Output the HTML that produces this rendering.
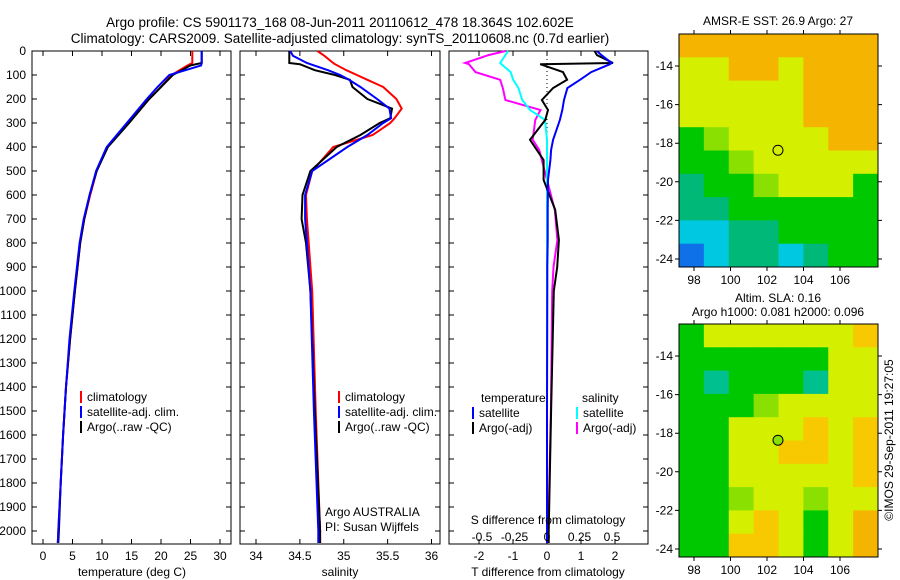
<!DOCTYPE html>
<html><head><meta charset="utf-8"><style>
body{margin:0;background:#fff;}
svg{display:block;font-family:"Liberation Sans",sans-serif;font-size:12px;}
</style></head><body>
<svg id="fig" width="900" height="580" viewBox="0 0 900 580">
<text x="340" y="27" text-anchor="middle" font-size="13.5">Argo profile: CS 5901173_168 08-Jun-2011 20110612_478 18.364S 102.602E</text>
<text x="340" y="43" text-anchor="middle" font-size="13.5">Climatology: CARS2009. Satellite-adjusted climatology: synTS_20110608.nc (0.7d earlier)</text>
<g id="plots"></g>
<text x="325" y="516">Argo AUSTRALIA</text>
<text x="325" y="531">PI: Susan Wijffels</text>
<text x="548" y="524" text-anchor="middle">S difference from climatology</text>
<text x="778" y="25" text-anchor="middle">AMSR-E SST: 26.9 Argo: 27</text>
<text x="778" y="302" text-anchor="middle">Altim. SLA: 0.16</text>
<text x="778" y="316" text-anchor="middle">Argo h1000: 0.081 h2000: 0.096</text>
<text transform="translate(893,440) rotate(-90)" text-anchor="middle">©IMOS 29-Sep-2011 19:27:05</text>
</svg>
<script>
const NS="http://www.w3.org/2000/svg";
// depth axis ticks
const depthTicks=[0,100,200,300,400,500,600,700,800,900,1000,1100,1200,1300,1400,1500,1600,1700,1800,1900,2000];
// temperature panel
const tDepth=[0,50,60,100,150,200,300,400,500,600,700,800,1000,1200,1400,1600,1800,2000,2050];
const tClim=[25.3,25.3,24.5,21.8,20.0,18.0,14.4,10.9,9.1,8.0,7.0,6.3,5.4,4.6,3.9,3.4,3.0,2.6,2.5];
const tSat=[26.9,26.9,26.8,21.4,19.4,17.6,14.2,10.8,9.0,7.9,6.9,6.2,5.3,4.5,3.9,3.4,3.0,2.6,2.5];
const tArgo=[26.9,26.9,25.0,22.0,20.0,18.0,14.6,11.0,9.1,7.9,7.0,6.3,5.4,4.6,3.9,3.4,3.0,2.7,2.6];
const tTicks=[0,5,10,15,20,25,30];
// salinity panel
const sDepth=[0,20,50,55,80,100,120,150,200,240,280,300,350,400,500,600,700,800,1000,1500,2000,2050];
const sClim=[34.70,34.78,34.88,34.90,35.03,35.15,35.27,35.45,35.60,35.66,35.58,35.53,35.33,34.88,34.64,34.57,34.58,34.60,34.64,34.68,34.73,34.73];
const sSat=[34.39,34.42,34.58,34.62,34.82,34.96,35.06,35.19,35.38,35.52,35.54,35.45,35.27,35.04,34.64,34.56,34.56,34.58,34.62,34.66,34.71,34.71];
const sArgo=[34.38,34.38,34.38,34.50,34.67,34.90,35.07,35.10,35.27,35.55,35.53,35.41,35.19,34.92,34.62,34.53,34.52,34.57,34.62,34.67,34.73,34.73];
const sTicks=[34,34.5,35,35.5,36];
const sTickLabels=["34","34.5","35","35.5","36"];
// difference panel
const dDepth=[0,17,50,55,88,120,154,204,246,287,370,412,454,537,662,787,900,1000,1500,2000,2050];
const dTSat=[1.47,1.6,1.9,1.85,1.3,0.97,0.6,0.5,0.45,0.38,0.18,0.12,0.1,0.03,0.02,0.02,0.01,0.01,0.0,0.0,0.0];
const dTArgo=[1.4,1.47,1.94,-0.2,0.47,0.59,0.18,-0.15,0.03,-0.05,-0.5,-0.3,-0.1,-0.1,0.24,0.35,0.3,0.2,0.12,0.05,0.05];
const dSSat=[-0.3,-0.32,-0.36,-0.35,-0.28,-0.26,-0.22,-0.19,-0.13,-0.015,0.0,0.0,0.0,0.0,0.0,0.0,0.0,0.0,0.0,0.0,0.0];
const dSArgo=[-0.32,-0.45,-0.63,-0.6,-0.55,-0.36,-0.34,-0.32,-0.05,-0.09,-0.11,-0.06,-0.04,0.0,0.06,0.08,0.05,0.04,0.03,0.01,0.0];
const dTTicks=[-2,-1,0,1,2];
const dSTicks=[-0.5,-0.25,0,0.25,0.5];
const dSTickLabels=["-0.5","-0.25","0","0.25","0.5"];
// map ticks
const lonTicks=[98,100,102,104,106];
const latTicks=[-14,-16,-18,-20,-22,-24];
const argoLon=102.602, argoLat=-18.364;
const sstGrid=["OOOOOOOO","YYOOYOOO","YYYYYOOO","YYYYYOOO","GgYYYYOO","GGgYYYYY","TGGgYYYG","TTGGGGGG","CCTTGGGG","BCTTCTGG"];
const slaGrid=["GYYYYYYo","GGGGGGYY","GtGGGtYY","GGGgYYYY","GGYYYoYo","GGYYooYo","GGYYYYYo","GGgYYgYY","GGYoYGYO","GGooYGYO"];
const palette={O:"#f5b400",o:"#f8c800",Y:"#d4f000",g:"#8ae000",G:"#00c800",T:"#00b878",t:"#00c090",C:"#00c8e0",B:"#1070e8"};

const plots=document.getElementById('plots');
function mk(tag,attrs,parent){const e=document.createElementNS(NS,tag);for(const k in attrs)e.setAttribute(k,attrs[k]);(parent||plots).appendChild(e);return e;}

const top0=51, bot=544, dScale=0.24;
const yD=d=>top0+d*dScale;
function linScale(v0,p0,v1,p1){return v=>p0+(v-v0)*(p1-p0)/(v1-v0);}
const xT=linScale(0,43,30,220);
const xS=linScale(34,256,36,431.5);
const xDT=linScale(0,547,2,615);
const xDS=linScale(0,547,0.5,612);

function frame(x0,x1,name,xt,xfn,labels,showY){
  const r=mk('rect',{x:x0,y:top0,width:x1-x0,height:bot-top0,fill:'none',stroke:'#000','stroke-width':1});
  
  
  depthTicks.forEach(d=>{
    const y=yD(d);
    const t=mk('path',{d:`M${x0} ${y}h5M${x1} ${y}h-5`,stroke:'#000'});
    
    
    if(showY){const l=mk('text',{x:x0-6,y:y+4,'text-anchor':'end'});l.textContent=d;
      
      }
  });
  xt.forEach((v,i)=>{
    const x=xfn(v);
    const t=mk('path',{d:`M${x} ${top0}v5M${x} ${bot}v-5`,stroke:'#000'});
    
    
    if(labels){const l=mk('text',{x:x,y:560,'text-anchor':'middle'});l.textContent=labels[i];
      
      }
  });
}
function line(depths,vals,xfn,color,name){
  const pts=depths.map((d,i)=>xfn(vals[i]).toFixed(1)+','+yD(d).toFixed(1)).join(' ');
  const p=mk('polyline',{points:pts,fill:'none',stroke:color,'stroke-width':2});
  
  
}
function label(x,y,txt,name,anchor){const l=mk('text',{x:x,y:y,'text-anchor':anchor||'start'});l.textContent=txt;
  
  }
function legendItem(x,y,color,txt,name){
  const b=mk('rect',{x:x,y:y-10,width:2,height:12,fill:color});
  
  
  if(txt)label(x+7,y,txt,name);
}

// panel 1
frame(32,231,'temperature-panel',tTicks,xT,tTicks.map(String),true);
line(tDepth,tClim,xT,'#f00','temperature-climatology-line');
line(tDepth,tArgo,xT,'#000','temperature-argo-line');
line(tDepth,tSat,xT,'#00f','temperature-satellite-line');
label(132,576,'temperature (deg C)','temperature-axis-title','middle');
legendItem(80,401,'#f00','climatology','legend-climatology');
legendItem(80,416,'#00f','satellite-adj. clim.','legend-satellite');
legendItem(80,431,'#000','Argo(..raw -QC)','legend-argo');

// panel 2
frame(240,440,'salinity-panel',sTicks,xS,sTickLabels,false);
line(sDepth,sClim,xS,'#f00','salinity-climatology-line');
line(sDepth,sArgo,xS,'#000','salinity-argo-line');
line(sDepth,sSat,xS,'#00f','salinity-satellite-line');
label(340,576,'salinity','salinity-axis-title','middle');
legendItem(338,401,'#f00','climatology','legend-s-climatology');
legendItem(338,416,'#00f','satellite-adj. clim.','legend-s-satellite');
legendItem(338,431,'#000','Argo(..raw -QC)','legend-s-argo');

// panel 3
frame(449,648,'difference-panel',dTTicks,xDT,dTTicks.map(String),false);
const z=mk('line',{x1:547,y1:top0,x2:547,y2:bot,stroke:'#000','stroke-dasharray':'1,3'});


line(dDepth,dSArgo,xDS,'#f0f','s-diff-argo-line');
line(dDepth,dSSat,xDS,'#0ff','s-diff-satellite-line');
line(dDepth,dTArgo,xDT,'#000','t-diff-argo-line');
line(dDepth,dTSat,xDT,'#00f','t-diff-satellite-line');
dSTicks.forEach((v,i)=>label(xDS(v),541,dSTickLabels[i],'s-diff-tick-label','middle'));
label(548,576,'T difference from climatology','t-diff-axis-title','middle');
label(481,402,'temperature','legend-temperature-header');
label(582,402,'salinity','legend-salinity-header');
legendItem(472,417,'#00f','satellite','legend-t-satellite');
legendItem(472,432,'#000','Argo(-adj)','legend-t-argo');
legendItem(576,417,'#0ff','satellite','legend-s-satellite-diff');
legendItem(576,432,'#f0f','Argo(-adj)','legend-s-argo-diff');

// maps
function map(y0,grid,name,dotFill){
  const x0=679,w=199,h=233;
  const xL=linScale(98,694,106,840), yL=linScale(-14,y0+32,-24,y0+225);
  const rows=grid.length, cols=grid[0].length;
  grid.forEach((row,r)=>[...row].forEach((c,k)=>{
    const cell=mk('rect',{x:x0+k*w/cols,y:y0+r*h/rows,width:w/cols+0.5,height:h/rows+0.5,fill:palette[c]});
    
    
  }));
  const f=mk('rect',{x:x0,y:y0,width:w,height:h,fill:'none',stroke:'#000'});
  
  
  lonTicks.forEach(v=>{const x=xL(v);
    const t=mk('path',{d:`M${x} ${y0}v-4M${x} ${y0+h}v4`,stroke:'#000'});
    
    
    label(x,y0+h+17,String(v),name+'-lon-label','middle');});
  latTicks.forEach(v=>{const y=yL(v);
    const t=mk('path',{d:`M${x0} ${y}h-4M${x0+w} ${y}h4`,stroke:'#000'});
    
    
    label(x0-6,y+4,String(v),name+'-lat-label','end');});
  const c=mk('circle',{cx:xL(argoLon),cy:yL(argoLat),r:5,fill:dotFill,stroke:'#000'});
  
  
}
map(34,sstGrid,'sst-map','none');
map(324,slaGrid,'sla-map','#8ae000');
</script>
</body></html>
